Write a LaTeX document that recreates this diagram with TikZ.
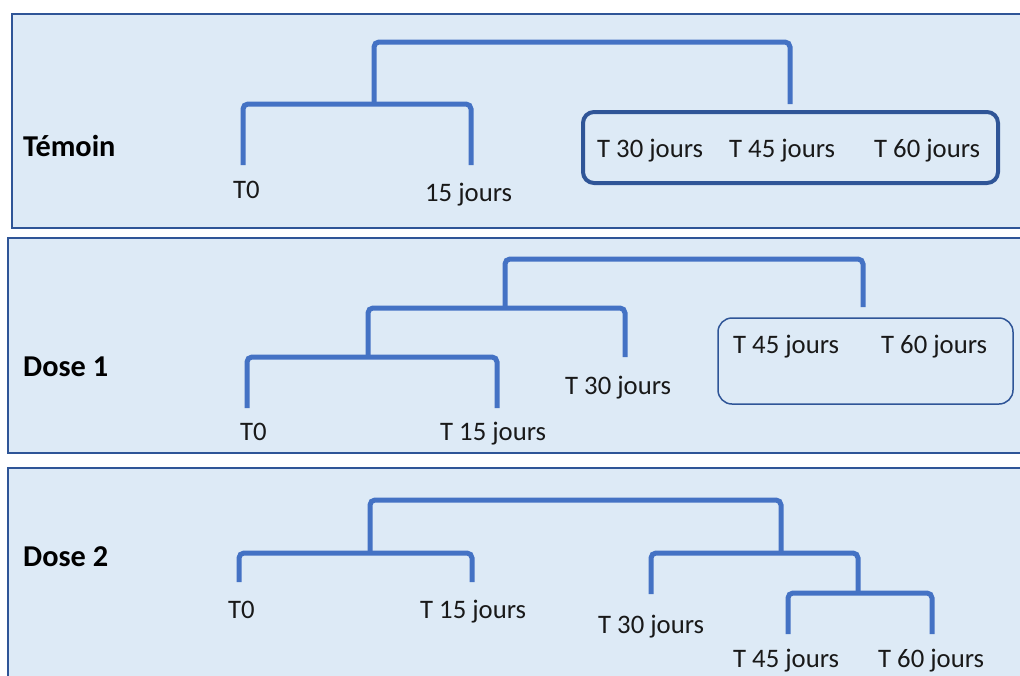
\documentclass[tikz,border=0pt]{standalone}
\usepackage{fontspec}
\setmainfont{Carlito}
\definecolor{panelfill}{HTML}{DDEAF6}
\definecolor{paneledge}{HTML}{2F5597}
\definecolor{branch}{HTML}{4472C4}
\definecolor{boxedge}{HTML}{2F5597}
\tikzset{
  panel/.style={draw=paneledge, fill=panelfill, line width=1.5pt},
  br/.style={draw=branch, line width=5pt, rounded corners=5pt},
  lbl/.style={font=\fontsize{26.7}{30}\selectfont, inner sep=0pt, anchor=base west, text=black!90},
  ttl/.style={font=\fontsize{30.3}{34}\selectfont\bfseries, inner sep=0pt, anchor=base west},
  thickbox/.style={draw=boxedge, line width=4pt, rounded corners=11pt, inner sep=0pt},
  thinbox/.style={draw=boxedge, line width=1.5pt, rounded corners=14pt, inner sep=0pt}
}
\begin{document}
\begin{tikzpicture}[x=1pt,y=-1pt]
\useasboundingbox (0,0) rectangle (1020,675);
\clip (0,0) rectangle (1020,675);
\fill[white] (0,0) rectangle (1020,675);
% panels
\draw[panel] (12,14) rectangle (1030,228);
\draw[panel] (8,238) rectangle (1030,453);
\draw[panel] (8,468) rectangle (1030,690);

% ---------------- Panel 1 : Temoin
\node[ttl] (tem) at (23,156) {Témoin};
\node[thickbox, minimum width=415pt, minimum height=71pt] (box1) at (790.5,147.5) {};
\node[lbl] (a0) at (233,198) {T0};
\node[lbl] (a15) at (425,201) {15 jours};
\node[lbl] (a30) at (597,157) {T 30 jours};
\node[lbl] (a45) at (729,157) {T 45 jours};
\node[lbl] (a60) at (874,157) {T 60 jours};
\coordinate (a0l) at (243,165);
\coordinate (a15l) at (471,165);
\coordinate (a1m) at (374,104);
\coordinate (a2r) at (790,104);
\coordinate (a2m) at (580,42);
\draw[br] (a0l) |- (a1m) -| (a15l);
\draw[br] (a1m) |- (a2m) -| (a2r);

% ---------------- Panel 2 : Dose 1
\node[ttl] (d1) at (23,376) {Dose 1};
\node[thinbox, minimum width=295pt, minimum height=86pt] (box2) at (865.5,361) {};
\node[lbl] (b0) at (240,440) {T0};
\node[lbl] (b15) at (440,440) {T 15 jours};
\node[lbl] (b30) at (565,394) {T 30 jours};
\node[lbl] (b45) at (733,353) {T 45 jours};
\node[lbl] (b60) at (881,353) {T 60 jours};
\coordinate (b0l) at (247,408);
\coordinate (b15l) at (497,408);
\coordinate (b1m) at (368,357);
\coordinate (b30l) at (625,357);
\coordinate (b2m) at (505,308);
\coordinate (b3r) at (863,307);
\coordinate (b3m) at (680,259);
\draw[br] (b0l) |- (b1m) -| (b15l);
\draw[br] (b1m) |- (b2m) -| (b30l);
\draw[br] (b2m) |- (b3m) -| (b3r);

% ---------------- Panel 3 : Dose 2
\node[ttl] (d2) at (23,566) {Dose 2};
\node[lbl] (c0) at (228,618) {T0};
\node[lbl] (c15) at (420,618) {T 15 jours};
\node[lbl] (c30) at (598,633) {T 30 jours};
\node[lbl] (c45) at (733,667) {T 45 jours};
\node[lbl] (c60) at (878,667) {T 60 jours};
\coordinate (c0l) at (239,582);
\coordinate (c15l) at (472,582);
\coordinate (c1m) at (370,553);
\coordinate (c45l) at (788,634);
\coordinate (c60l) at (932,634);
\coordinate (c2m) at (858,593);
\coordinate (c30l) at (651,594);
\coordinate (c3m) at (781,553);
\coordinate (c4m) at (575,500);
\draw[br] (c0l) |- (c1m) -| (c15l);
\draw[br] (c45l) |- (c2m) -| (c60l);
\draw[br] (c30l) |- (c3m) -| (c2m);
\draw[br] (c1m) |- (c4m) -| (c3m);
\end{tikzpicture}
\end{document}
